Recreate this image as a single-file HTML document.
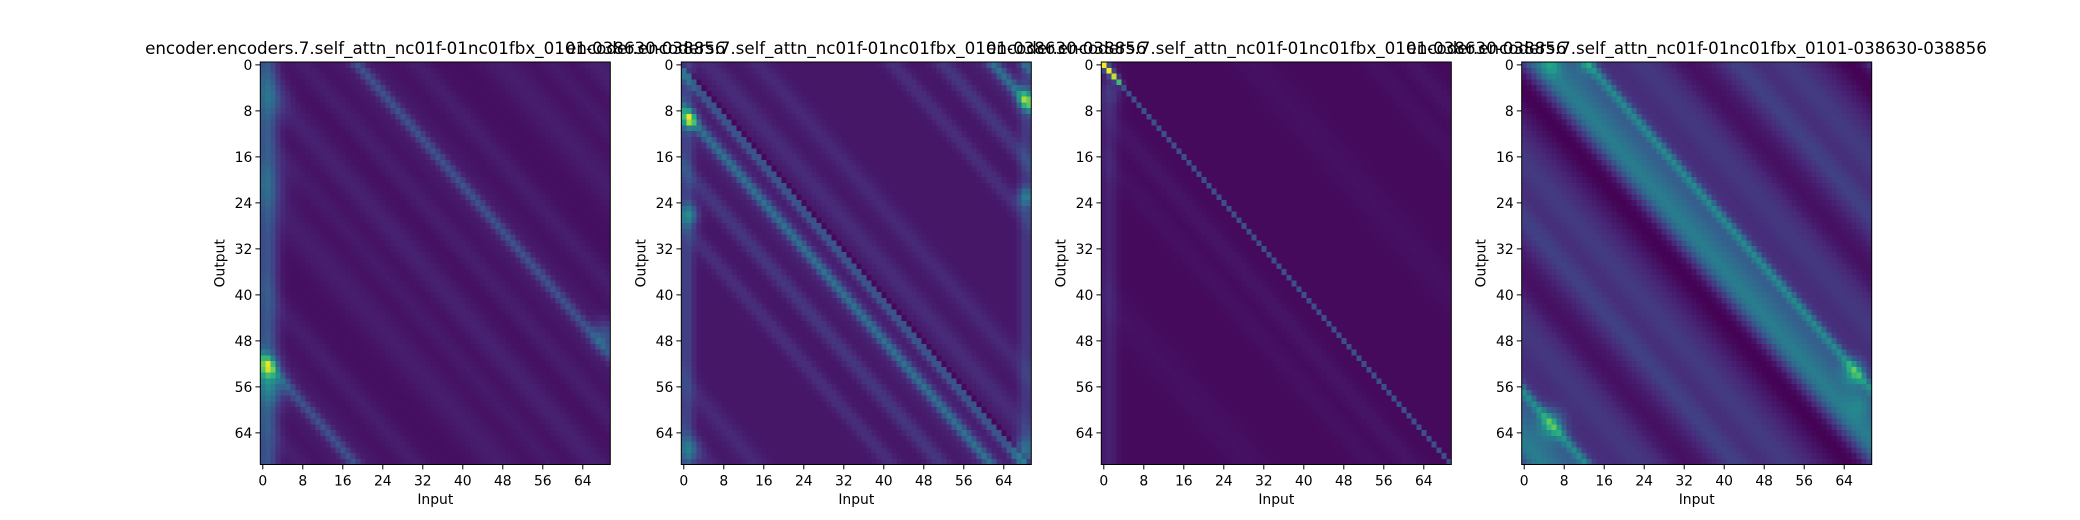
<!DOCTYPE html>
<html><head><meta charset="utf-8"><style>
html,body{margin:0;padding:0;background:#fff;}
svg{display:block;}
text{font-family:"DejaVu Sans","Liberation Sans",sans-serif;fill:#000;}
</style></head><body>
<svg id="chart" width="2080" height="520" viewBox="0 0 2080 520" xmlns="http://www.w3.org/2000/svg"></svg>
<script>
// ---- data (per panel) ----
const nRows = 70;
const nCols = 70;
const tickValues = [0, 8, 16, 24, 32, 40, 48, 56, 64];
const titleText = "encoder.encoders.7.self_attn_nc01f-01nc01fbx_0101-038630-038856";
// bands on circular diagonal offset (col - row): [offset, width, amplitude]
const p1Base = 0.04;
const p1Bands = [[19, 1.0, 0.17], [19, 4, 0.04], [-3, 2.5, 0.05], [8, 2, 0.04], [-22, 3, 0.04], [31, 2, 0.04], [-12, 2, 0.03]];
const p1ColBands = [[0.8, 1.5, 0.22]];
const p1Spots = [[52.5, 0.8, 0.5, 1.3], [56, 1.5, 0.2, 2.2], [6, 1.5, 0.1, 2.5], [20, 1, 0.08, 3], [47, 68.5, 0.18, 1.8]];

const p2Base = 0.06;
const p2Bands = [[0, 0.35, -0.1], [-1.5, 0.9, 0.22], [-8, 1.0, 0.26], [-8, 3, 0.05], [-18, 1.5, 0.1], [-28, 1.5, 0.07], [5, 2, 0.06], [15, 2, 0.05]];
const p2ColBands = [[0.5, 1.0, 0.14], [68.5, 1.0, 0.1]];
const p2Spots = [[9.5, 1, 0.55, 1.0], [6, 68.5, 0.45, 1.2], [26, 1, 0.3, 1.3], [23, 68.5, 0.28, 1.2], [67, 68, 0.22, 1.5], [67, 1, 0.2, 1.5]];

const p3Base = 0.025;
const p3Bands = [[0, 0.3, 0.22], [-8, 2, 0.03], [-16, 2, 0.02], [30, 3, 0.02]];
const p3ColBands = [[1, 1.2, 0.07]];
const p3Spots = [[0, 0, 0.92, 0.45], [1, 1, 0.88, 0.45], [2, 2, 0.6, 0.45], [3, 3, 0.4, 0.45], [5, 1.5, 0.08, 1.5]];

const p4Base = 0.09;
const p4Bands = [[3.5, 3, 0.3], [13, 0.9, 0.26], [10, 3.5, 0.18], [-3.5, 3.5, -0.1], [24, 4, 0.07], [-17, 3.5, 0.08], [-27, 2.5, 0.1], [33, 3, -0.05]];
const p4ColBands = [];
const p4Spots = [[53.5, 66, 0.3, 1.6], [62.5, 5.5, 0.3, 1.8], [0, 5.5, 0.18, 1.3], [0, 12.5, 0.14, 1.3], [59, 67, 0.12, 1.6]];

const panels = [
  {name: "head-1", left: 260.3, base: p1Base, bands: p1Bands, cols: p1ColBands, spots: p1Spots},
  {name: "head-2", left: 681.3, base: p2Base, bands: p2Bands, cols: p2ColBands, spots: p2Spots},
  {name: "head-3", left: 1101.3, base: p3Base, bands: p3Bands, cols: p3ColBands, spots: p3Spots},
  {name: "head-4", left: 1521.7, base: p4Base, bands: p4Bands, cols: p4ColBands, spots: p4Spots}
];

// viridis colormap stops
const viridis = [[68,1,84],[72,40,120],[62,74,137],[49,104,142],[38,130,142],[31,158,137],[53,183,121],[109,205,89],[180,222,44],[253,231,37]];
function cmap(v){
  v = Math.max(0, Math.min(1, v));
  const p = v * (viridis.length - 1);
  const i = Math.min(viridis.length - 2, Math.floor(p));
  const t = p - i;
  const a = viridis[i], b = viridis[i+1];
  return "rgb(" + Math.round(a[0]+(b[0]-a[0])*t) + "," + Math.round(a[1]+(b[1]-a[1])*t) + "," + Math.round(a[2]+(b[2]-a[2])*t) + ")";
}
function cellValue(p, r, c){
  let v = p.base;
  let d = c - r;
  for (const b of p.bands){
    let dd = d - b[0];
    dd = ((dd % nCols) + nCols + nCols/2) % nCols - nCols/2;
    v += b[2] * Math.exp(-0.5 * (dd / b[1]) * (dd / b[1]));
  }
  for (const cb of p.cols){
    const dc = (c - cb[0]) / cb[1];
    v += cb[2] * Math.exp(-0.5 * dc * dc);
  }
  for (const s of p.spots){
    const dr = r - s[0], dc = c - s[1];
    v += s[2] * Math.exp(-0.5 * (dr*dr + dc*dc) / (s[3]*s[3]));
  }
  return v;
}

const NS = "http://www.w3.org/2000/svg";
const svg = document.getElementById("chart");
const top0 = 62, plotW = 350, plotH = 402.5;
const cellW = plotW / nCols, cellH = plotH / nRows;
function mk(tag, attrs, parent){
  const e = document.createElementNS(NS, tag);
  for (const k in attrs) e.setAttribute(k, attrs[k]);
  parent.appendChild(e);
  return e;
}

panels.forEach(function(p){
  const xScale = function(c){ return p.left + c * cellW; };
  const yScale = function(r){ return top0 + r * cellH; };
  const g = mk("g", {}, svg);
  
  
  const cells = mk("g", {"shape-rendering": "crispEdges"}, g);
  
  
  for (let r = 0; r < nRows; r++){
    for (let c = 0; c < nCols; c++){
      const rect = mk("rect", {x: xScale(c).toFixed(2), y: yScale(r).toFixed(2), width: (cellW + 0.4).toFixed(2), height: (cellH + 0.4).toFixed(2), fill: cmap(cellValue(p, r, c))}, cells);
      
      
    }
  }
  const frame = mk("rect", {x: p.left, y: top0, width: plotW, height: plotH, fill: "none", stroke: "#000", "stroke-width": 1}, g);
  
  
  tickValues.forEach(function(t){
    const ty = yScale(t + 0.5);
    const yl = mk("line", {x1: p.left - 4.9, x2: p.left, y1: ty, y2: ty, stroke: "#000", "stroke-width": 1}, g);
    
    
    const yt = mk("text", {x: p.left - 8, y: ty + 5, "text-anchor": "end", "font-size": "13.9px"}, g);
    yt.textContent = t;
    
    
    const tx = xScale(t + 0.5);
    const xl = mk("line", {x1: tx, x2: tx, y1: top0 + plotH, y2: top0 + plotH + 4.9, stroke: "#000", "stroke-width": 1}, g);
    
    
    const xt = mk("text", {x: tx, y: top0 + plotH + 21, "text-anchor": "middle", "font-size": "13.9px"}, g);
    xt.textContent = t;
    
    
  });
  const xa = mk("text", {x: p.left + plotW/2, y: 504, "text-anchor": "middle", "font-size": "13.9px"}, g);
  xa.textContent = "Input";
  
  
  const ycx = p.left - 36, ycy = top0 + plotH/2;
  const ya = mk("text", {x: ycx, y: ycy, "text-anchor": "middle", "font-size": "13.9px", transform: "rotate(-90 " + ycx + " " + ycy + ")"}, g);
  ya.textContent = "Output";
  
  
  const tt = mk("text", {x: p.left + plotW/2, y: 54, "text-anchor": "middle", "font-size": "16.7px"}, g);
  tt.textContent = titleText;
  
  
});
</script>
</body></html>
